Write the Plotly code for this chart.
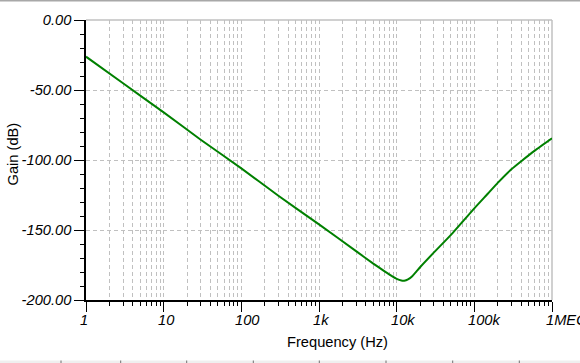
import numpy as np
import plotly.graph_objects as go

# ---- data ----
freq_hz = [1, 3, 10, 30, 100, 300, 1000, 3000, 5000, 7000, 8500, 10000, 11500, 12500,
           14000, 16000, 18000, 20000, 30000, 50000, 100000, 150000, 200000, 300000,
           420000, 600000, 1000000]
gain_db = [-26.2, -45.2, -66.0, -85.5, -106.0, -125.5, -146.0, -165.1, -174.0, -179.5,
           -182.6, -184.9, -186.1, -186.2, -185.3, -182.8, -179.6, -176.6, -166.2, -153.5,
           -134.5, -123.9, -116.3, -106.6, -100.0, -93.3, -84.5]

x_tick_vals = [1, 10, 100, 1000, 10000, 100000, 1000000]
x_tick_text = ["1", "10", "100", "1k", "10k", "100k", "1MEG"]
x_minor_digits = [2, 3, 4, 5, 6, 7, 8, 9]
y_tick_vals = [0, -50, -100, -150, -200]
y_tick_text = ["0.00", "-50.00", "-100.00", "-150.00", "-200.00"]

W, H = 580, 363
L, R, T, B = 86, 28, 20, 63
PW, PH = W - L - R, H - T - B


def px_x(px):
    return (px - L) / PW


def px_y(py):
    return (H - B - py) / PH


FONT = "Liberation Sans"
FS = 14.67
GRID = "#c0c0c0"

x_minor_vals = [d * dec for dec in x_tick_vals[:-1] for d in x_minor_digits]

fig = go.Figure()
fig.add_trace(go.Scatter(x=freq_hz, y=gain_db, mode="lines",
                         line=dict(color="#008000", width=2, shape="spline", smoothing=0.5),
                         hoverinfo="skip", showlegend=False))

fig.update_xaxes(type="log", range=[0, 6], showline=True, linecolor="black", linewidth=1.5,
                 ticks="outside", ticklen=10, tickcolor="black", tickwidth=1,
                 tickvals=x_tick_vals, showticklabels=False, automargin=False,
                 showgrid=True, gridcolor=GRID, griddash="4px,3px", gridwidth=1,
                 minor=dict(tickvals=x_minor_vals, ticks="outside", ticklen=4, tickcolor="black",
                            showgrid=True, gridcolor=GRID, griddash="4px,3px", gridwidth=1),
                 zeroline=False, fixedrange=True)
fig.update_yaxes(range=[-200, 0], showline=True, linecolor="black", linewidth=1.5,
                 ticks="outside", ticklen=10, tickcolor="black", tickwidth=1,
                 tickvals=y_tick_vals, ticktext=y_tick_text, automargin=False,
                 tickfont=dict(family=FONT, size=FS, color="black", style="italic"),
                 showgrid=True, gridcolor=GRID, griddash="4px,3px", gridwidth=1,
                 minor=dict(dtick=10, ticks="outside", ticklen=4, tickcolor="black", showgrid=False),
                 zeroline=False, fixedrange=True)

annotations = []
for v, t in zip(x_tick_vals, x_tick_text):
    annotations.append(dict(x=np.log10(v), xref="x", y=0, yref="paper", text=t, showarrow=False,
                            xanchor="left", yanchor="top", xshift=-8, yshift=-10,
                            font=dict(family=FONT, size=FS, color="black", style="italic")))
annotations.append(dict(x=px_x(12.5), y=px_y(154), xref="paper", yref="paper", text="Gain (dB)",
                        textangle=-90, showarrow=False, xanchor="center", yanchor="middle",
                        font=dict(family=FONT, size=FS, color="black")))
annotations.append(dict(x=px_x(337), y=px_y(342), xref="paper", yref="paper", text="Frequency (Hz)",
                        showarrow=False, xanchor="center", yanchor="middle",
                        font=dict(family=FONT, size=FS, color="black")))

shapes = [
    dict(type="line", xref="paper", yref="paper", x0=0, x1=1, y0=1, y1=1,
         line=dict(color=GRID, width=1.5), layer="between"),
    dict(type="line", xref="paper", yref="paper", x0=1, x1=1, y0=0, y1=1,
         line=dict(color=GRID, width=1.5), layer="between"),
    dict(type="rect", xref="paper", yref="paper", x0=px_x(0), x1=px_x(W), y0=px_y(0), y1=px_y(1.5),
         fillcolor="#a8a8a8", line=dict(width=0), layer="above"),
    dict(type="rect", xref="paper", yref="paper", x0=px_x(0), x1=px_x(W), y0=px_y(360.5), y1=px_y(363),
         fillcolor="#efefef", line=dict(width=0), layer="above"),
]
for bx in [61, 120.7, 186.7, 253.3, 319.3, 386, 452.7, 519.3]:
    shapes.append(dict(type="line", xref="paper", yref="paper", x0=px_x(bx), x1=px_x(bx),
                       y0=px_y(360.5), y1=px_y(363), line=dict(color="#707070", width=1), layer="above"))

fig.update_layout(width=W, height=H, margin=dict(l=L, r=R, t=T, b=B, autoexpand=False),
                  paper_bgcolor="white", plot_bgcolor="white",
                  annotations=annotations, shapes=shapes, showlegend=False)

fig.write_html("out.html", config={"displayModeBar": False},
               post_script="document.body.style.margin='0';document.body.style.overflow='hidden';")
